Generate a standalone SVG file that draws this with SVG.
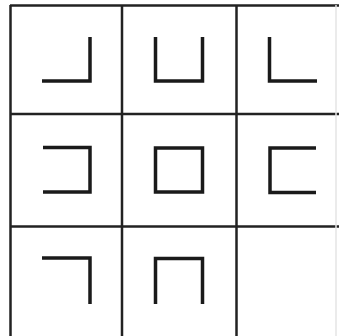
<svg xmlns="http://www.w3.org/2000/svg" width="339" height="336" viewBox="0 0 339 336">
<style>
.grid{stroke:#222;stroke-width:2.5;fill:none}
.faint{stroke:#e4e4e4;stroke-width:1.5;fill:none}
.shape{stroke:#1a1a1a;stroke-width:3.5;fill:none;stroke-linecap:butt;stroke-linejoin:miter}
</style>
<rect width="339" height="336" fill="#fff"/>
<g id="grid">
<line class="grid" x1="10" y1="5.5" x2="339" y2="5.5"/>
<line class="grid" x1="10.5" y1="5" x2="10.5" y2="336"/>
<line class="grid" x1="122" y1="5" x2="122" y2="336"/>
<line class="grid" x1="236.5" y1="5" x2="236.5" y2="336"/>
<line class="grid" x1="10" y1="114" x2="339" y2="114"/>
<line class="grid" x1="10" y1="226.5" x2="339" y2="226.5"/>
<line class="faint" x1="336" y1="5" x2="336" y2="336"/>
</g>
<g id="cell1"><polyline class="shape" points="42,81 90,81 90,37"/></g>
<g id="cell2"><polyline class="shape" points="155.5,37 155.5,81 202.5,81 202.5,37"/></g>
<g id="cell3"><polyline class="shape" points="269.5,37 269.5,81 317,81"/></g>
<g id="cell4"><polyline class="shape" points="43,147.5 90,147.5 90,192 43,192"/></g>
<g id="cell5"><rect class="shape" x="155.5" y="148" width="47" height="44"/></g>
<g id="cell6"><polyline class="shape" points="316,148 270,148 270,192.5 316,192.5"/></g>
<g id="cell7"><polyline class="shape" points="42,258 90,258 90,304"/></g>
<g id="cell8"><polyline class="shape" points="155.5,304 155.5,258.5 202.5,258.5 202.5,304"/></g>
</svg>
